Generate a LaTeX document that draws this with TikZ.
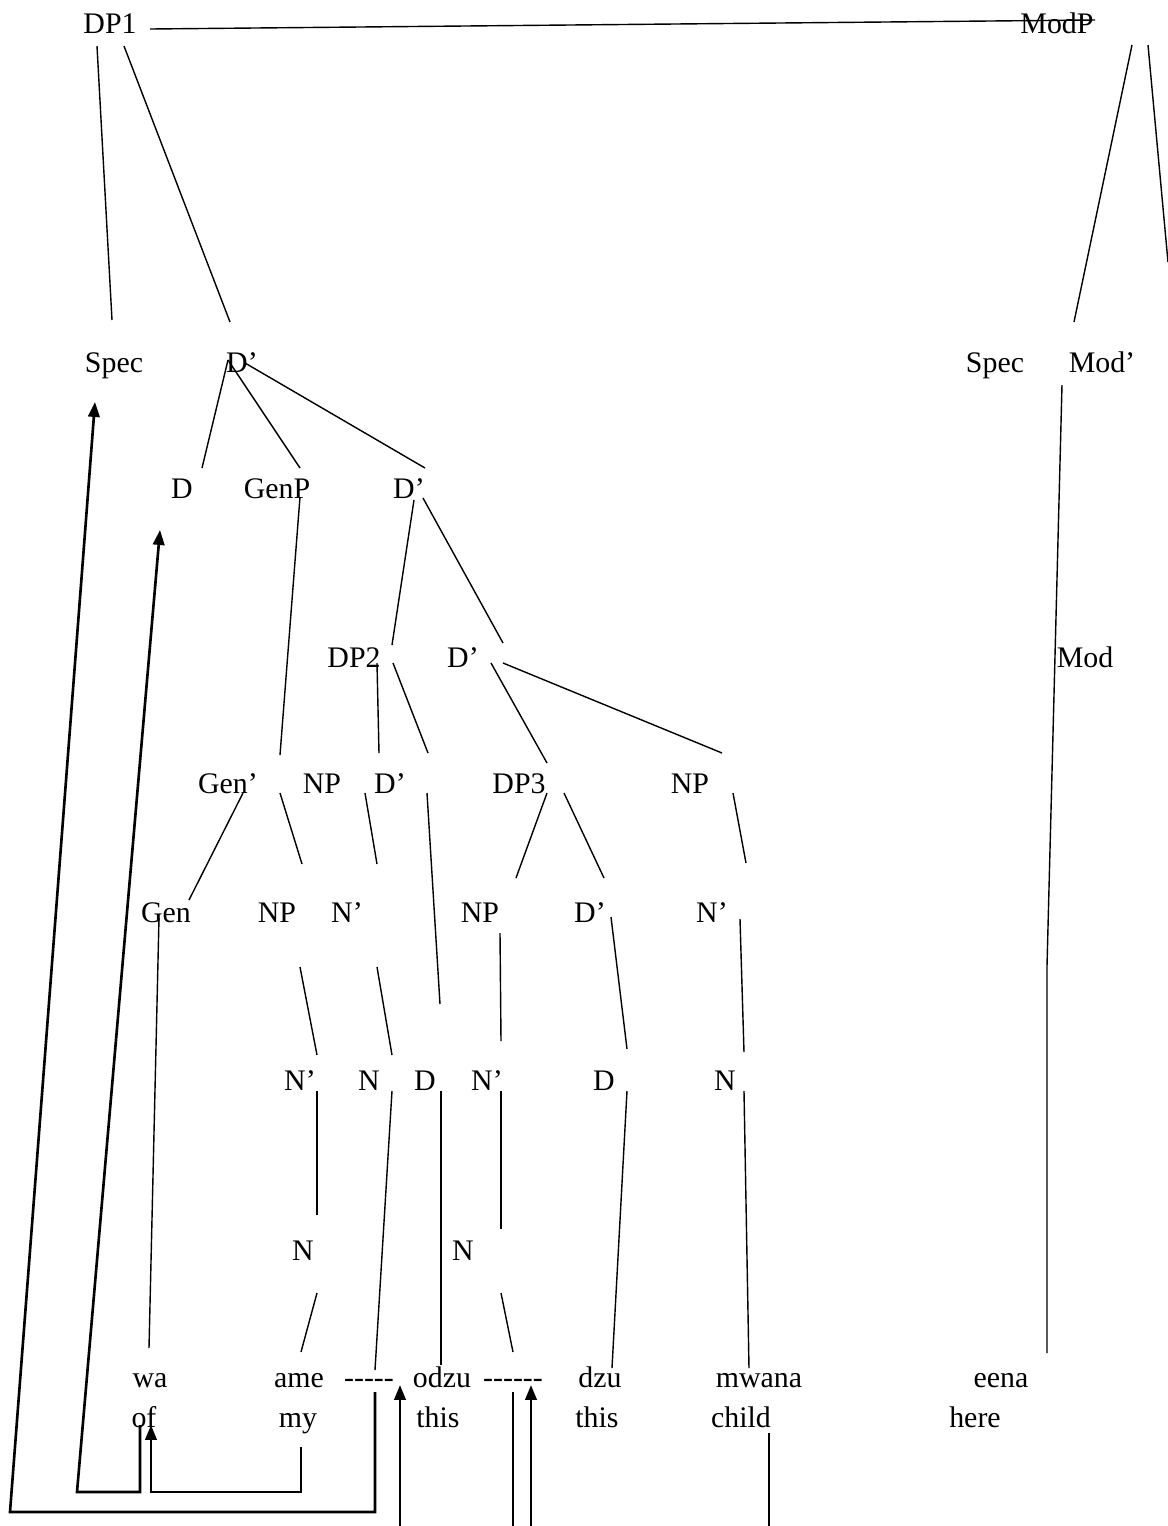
\documentclass[tikz,border=0pt]{standalone}
\usepackage{fontspec}
\setmainfont{Liberation Serif}
\usepackage{tikz}
\usetikzlibrary{arrows.meta}
\tikzset{
  catlabel/.style={
    anchor=base, inner sep=0pt, font=\fontsize{17pt}{20pt}\selectfont
  },
  branch/.style={
    line width=0.8pt, color=black
  },
  movearrow/.style={
    -{Triangle[length=8.5pt,width=6.5pt]}, line width=1.5pt, color=black
  },
  moveline/.style={
    line width=1.5pt, color=black
  },
}

\begin{document}
\begin{tikzpicture}[x=0.02cm, y=-0.02cm]
  \useasboundingbox (0,0) rectangle (1168,1526);

  % ── labels, row by row ──
  \node[catlabel] (dpone) at (110,33) {DP1};
  \node[catlabel] (modp) at (1057,33) {ModP};

  \node[catlabel] (specL) at (114,372) {Spec};
  \node[catlabel] (dbarA) at (242,372) {D’};
  \node[catlabel] (specR) at (995,372) {Spec};
  \node[catlabel] (modbar) at (1102,372) {Mod’};

  \node[catlabel] (dA) at (182,498) {D};
  \node[catlabel] (genp) at (277,498) {GenP};
  \node[catlabel] (dbarB) at (409,498) {D’};

  \node[catlabel] (dptwo) at (354,667) {DP2};
  \node[catlabel] (dbarC) at (463,667) {D’};
  \node[catlabel] (mod) at (1085,667) {Mod};

  \node[catlabel] (genbar) at (228,793) {Gen’};
  \node[catlabel] (npA) at (322,793) {NP};
  \node[catlabel] (dbarD) at (390,793) {D’};
  \node[catlabel] (dpthree) at (519,793) {DP3};
  \node[catlabel] (npB) at (690,793) {NP};

  \node[catlabel] (gen) at (166,922) {Gen};
  \node[catlabel] (npC) at (277,922) {NP};
  \node[catlabel] (nbarA) at (347,922) {N’};
  \node[catlabel] (npD) at (480,922) {NP};
  \node[catlabel] (dbarE) at (590,922) {D’};
  \node[catlabel] (nbarB) at (712,922) {N’};

  \node[catlabel] (nbarC) at (300,1090) {N’};
  \node[catlabel] (nA) at (369,1090) {N};
  \node[catlabel] (dB) at (425,1090) {D};
  \node[catlabel] (nbarD) at (487,1090) {N’};
  \node[catlabel] (dC) at (604,1090) {D};
  \node[catlabel] (nB) at (725,1090) {N};

  \node[catlabel] (nC) at (303,1260) {N};
  \node[catlabel] (nD) at (463,1260) {N};

  % ── words and glosses ──
  \node[catlabel] (wa) at (150,1387) {wa};
  \node[catlabel] (ame) at (299,1387) {ame};
  \node[catlabel] (gapA) at (369,1387) {-{}-{}-{}-{}-};
  \node[catlabel] (odzu) at (442,1387) {odzu};
  \node[catlabel] (gapB) at (513,1387) {-{}-{}-{}-{}-{}-};
  \node[catlabel] (dzu) at (600,1387) {dzu};
  \node[catlabel] (mwana) at (759,1387) {mwana};
  \node[catlabel] (eena) at (1001,1387) {eena};

  \node[catlabel] (of) at (144,1427) {of};
  \node[catlabel] (my) at (298,1427) {my};
  \node[catlabel] (thisA) at (438,1427) {this};
  \node[catlabel] (thisB) at (597,1427) {this};
  \node[catlabel] (child) at (741,1427) {child};
  \node[catlabel] (here) at (975,1427) {here};

  % ── branches ──
  \draw[branch] (150,29) -- (1095,20);
  \draw[branch] (97,46) -- (112,320);
  \draw[branch] (124,46) -- (230,322);
  \draw[branch] (1132,45) -- (1074,322);
  \draw[branch] (1148,45) -- (1168,262);

  \draw[branch] (228,360) -- (202,468);
  \draw[branch] (228,360) -- (300,468);
  \draw[branch] (245,363) -- (425,468);
  \draw[branch] (1062,385) -- (1047,966) -- (1047,1353);

  \draw[branch] (300,497) -- (280,755);
  \draw[branch] (414,500) -- (392,645);
  \draw[branch] (423,498) -- (503,643);

  \draw[branch] (377,663) -- (379,753);
  \draw[branch] (393,663) -- (428,753);
  \draw[branch] (491,663) -- (547,763);
  \draw[branch] (503,663) -- (722,753);

  \draw[branch] (243,793) -- (189,900);
  \draw[branch] (280,793) -- (302,864);
  \draw[branch] (365,793) -- (377,864);
  \draw[branch] (427,793) -- (440,1004);
  \draw[branch] (547,793) -- (516,878);
  \draw[branch] (564,793) -- (604,878);
  \draw[branch] (733,793) -- (746,863);

  \draw[branch] (159,918) -- (149,1348);
  \draw[branch] (300,967) -- (317,1055);
  \draw[branch] (377,967) -- (392,1055);
  \draw[branch] (500,933) -- (501,1041);
  \draw[branch] (611,917) -- (627,1049);
  \draw[branch] (740,919) -- (744,1052);

  \draw[branch] (317,1091) -- (317,1215);
  \draw[branch] (392,1091) -- (375,1370);
  \draw[branch] (441,1091) -- (441,1365);
  \draw[branch] (501,1091) -- (501,1229);
  \draw[branch] (627,1091) -- (612,1368);
  \draw[branch] (744,1091) -- (749,1368);

  \draw[branch] (317,1293) -- (301,1352);
  \draw[branch] (501,1293) -- (513,1352);

  % ── movement lines ──
  \draw[movearrow] (375,1392) -- (375,1512) -- (10,1512) -- (95,402);
  \draw[movearrow] (140,1425) -- (140,1492) -- (77,1492) -- (160,530);
  \draw[movearrow] (301,1447) -- (301,1492) -- (151,1492) -- (151,1425);
  \draw[movearrow] (400,1526) -- (400,1385);
  \draw[moveline] (513,1392) -- (513,1526);
  \draw[movearrow] (531,1526) -- (531,1385);
  \draw[moveline] (769,1433) -- (769,1526);
\end{tikzpicture}
\end{document}
